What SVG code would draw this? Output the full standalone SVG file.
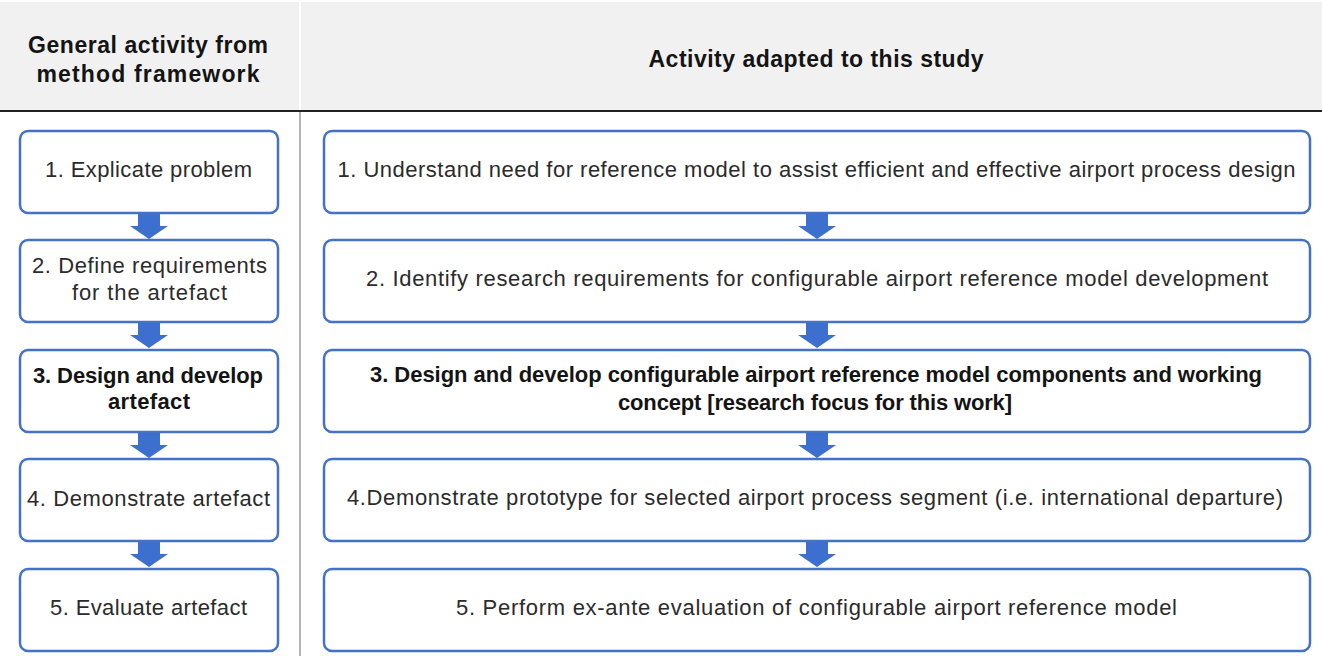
<svg xmlns="http://www.w3.org/2000/svg" width="1322" height="656" viewBox="0 0 1322 656">
  <style>
    .hdr { fill: #f1f1f1; }
    .box { fill: #ffffff; stroke: #4472c4; stroke-width: 2.5; }
    .arrow { fill: #3d6fcf; }
    .t { font-family: "Liberation Sans", Arial, sans-serif; font-size: 22px; fill: #2b2b2b; text-anchor: middle; }
    .b { font-weight: bold; fill: #141414; }
    .h { font-size: 23px; }
  </style>
  <defs>
    <path id="down" d="M-11,0 H11 V13 H19 L0,26 L-19,13 H-11 Z"/>
  </defs>

  <!-- table header -->
  <rect class="hdr" x="0" y="2" width="1322" height="108"/>
  <line x1="300" y1="2" x2="300" y2="110" stroke="#ffffff" stroke-width="2"/>
  <line x1="300" y1="112" x2="300" y2="656" stroke="#b3b3b3" stroke-width="2"/>
  <line x1="0" y1="111" x2="1322" y2="111" stroke="#222222" stroke-width="2"/>
  <text class="t b h" x="148" y="53" textLength="240">General activity from</text>
  <text class="t b h" x="148" y="82" textLength="223">method framework</text>
  <text class="t b h" x="816" y="67" textLength="335">Activity adapted to this study</text>

  <!-- connectors -->
  <g id="connectors" class="arrow">
    <use href="#down" x="149" y="213"/>
    <use href="#down" x="149" y="322"/>
    <use href="#down" x="149" y="432"/>
    <use href="#down" x="149" y="541"/>
    <use href="#down" x="817" y="213"/>
    <use href="#down" x="817" y="322"/>
    <use href="#down" x="817" y="432"/>
    <use href="#down" x="817" y="541"/>
  </g>

  <!-- general activities -->
  <g id="g1"><rect class="box" x="20" y="131" width="258" height="82" rx="8"/>
    <text class="t" x="148.5" y="177" textLength="207">1. Explicate problem</text></g>
  <g id="g2"><rect class="box" x="20" y="240" width="258" height="82" rx="8"/>
    <text class="t" x="149.5" y="273" textLength="235">2. Define requirements</text>
    <text class="t" x="149.5" y="300" textLength="155">for the artefact</text></g>
  <g id="g3"><rect class="box" x="20" y="350" width="258" height="82" rx="8"/>
    <text class="t b" x="148" y="383" textLength="230">3. Design and develop</text>
    <text class="t b" x="149" y="409" textLength="82">artefact</text></g>
  <g id="g4"><rect class="box" x="20" y="459" width="258" height="82" rx="8"/>
    <text class="t" x="148.5" y="506" textLength="243">4. Demonstrate artefact</text></g>
  <g id="g5"><rect class="box" x="20" y="569" width="258" height="82" rx="8"/>
    <text class="t" x="148.5" y="615" textLength="197">5. Evaluate artefact</text></g>

  <!-- adapted activities -->
  <g id="a1"><rect class="box" x="324" y="131" width="986" height="82" rx="8"/>
    <text class="t" x="816.5" y="177" textLength="958">1. Understand need for reference model to assist efficient and effective airport process design</text></g>
  <g id="a2"><rect class="box" x="324" y="240" width="986" height="82" rx="8"/>
    <text class="t" x="817" y="286" textLength="902">2. Identify research requirements for configurable airport reference model development</text></g>
  <g id="a3"><rect class="box" x="324" y="350" width="986" height="82" rx="8"/>
    <text class="t b" x="816" y="382" textLength="892">3. Design and develop configurable airport reference model components and working</text>
    <text class="t b" x="815" y="410" textLength="394">concept [research focus for this work]</text></g>
  <g id="a4"><rect class="box" x="324" y="459" width="986" height="82" rx="8"/>
    <text class="t" x="815" y="505" textLength="936">4.Demonstrate prototype for selected airport process segment (i.e. international departure)</text></g>
  <g id="a5"><rect class="box" x="324" y="569" width="986" height="82" rx="8"/>
    <text class="t" x="816.5" y="615" textLength="721">5. Perform ex-ante evaluation of configurable airport reference model</text></g>
</svg>
